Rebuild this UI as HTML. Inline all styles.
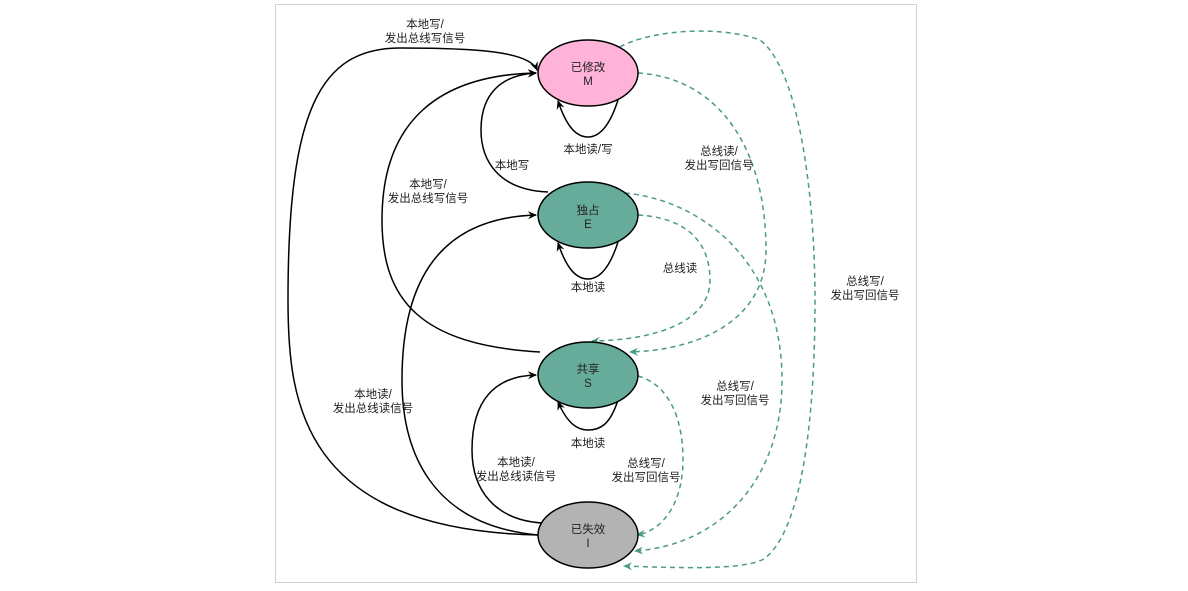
<!DOCTYPE html>
<html><head><meta charset="utf-8"><style>
html,body{margin:0;padding:0;background:#fff;}
svg{display:block;}
text{font-family:"Liberation Sans","Noto Sans CJK SC",sans-serif;font-size:11.5px;fill:#222;}
</style></head><body>
<svg width="1188" height="591" viewBox="0 0 1188 591" xmlns="http://www.w3.org/2000/svg">
<defs>
<marker id="ab" markerWidth="10" markerHeight="10" refX="8" refY="5" orient="auto" markerUnits="userSpaceOnUse"><path d="M0,1 L9,5 L0,9 L3,5 Z" fill="#000"/></marker>
<marker id="at" markerWidth="10" markerHeight="10" refX="8" refY="5" orient="auto" markerUnits="userSpaceOnUse"><path d="M0,1 L9,5 L0,9 L3,5 Z" fill="#4a9a86"/></marker>
</defs>
<rect x="275.5" y="4.5" width="641" height="578" fill="#fff" stroke="#d0d0d0"/>
<g fill="none" stroke="#000" stroke-width="1.5">
<path d="M538,535 C300,530 288,400 288,300 C288,110 320,48 400,48 C480,48 530,52 537,70" marker-end="url(#ab)"/>
<path d="M540,352 C420,345 382,300 382,220 C382,120 440,75 536,73" marker-end="url(#ab)"/>
<path d="M548,192 C498,190 481,160 481,130 C481,95 500,75 536,73" marker-end="url(#ab)"/>
<path d="M538,535 C430,525 402,450 402,380 C402,280 440,218 536,215" marker-end="url(#ab)"/>
<path d="M542,523 C495,520 472,490 472,450 C472,400 495,376 536,375" marker-end="url(#ab)"/>
<path d="M618,100 C610,125 600,137 588,137 C574,137 565,122 558,101" marker-end="url(#ab)"/>
<path d="M618,242 C610,267 600,279 588,279 C574,279 565,264 558,243" marker-end="url(#ab)"/>
<path d="M618,400 C610,425 600,430 588,430 C574,430 565,418 558,402" marker-end="url(#ab)"/>
</g>
<g fill="none" stroke="#4a9a86" stroke-width="1.5" stroke-dasharray="5,4">
<path d="M620,47 C650,30 720,25 760,40 C800,70 815,200 815,300 C815,450 795,540 762,560 C740,570 680,568 624,566" marker-end="url(#at)"/>
<path d="M638,73 C720,78 766,150 766,250 C766,320 700,350 630,352" marker-end="url(#at)"/>
<path d="M638,215 C690,218 710,245 710,280 C710,320 660,340 592,341" marker-end="url(#at)"/>
<path d="M625,193 C700,200 782,260 782,380 C782,480 720,545 635,551" marker-end="url(#at)"/>
<path d="M638,376 C670,385 683,420 683,460 C683,500 665,530 637,535" marker-end="url(#at)"/>
</g>
<ellipse cx="588" cy="73" rx="50" ry="33" fill="#ffb3d9" stroke="#000" stroke-width="1.5"/>
<ellipse cx="588" cy="215" rx="50" ry="33" fill="#67ab9b" stroke="#000" stroke-width="1.5"/>
<ellipse cx="588" cy="375" rx="50" ry="33" fill="#67ab9b" stroke="#000" stroke-width="1.5"/>
<ellipse cx="588" cy="535" rx="50" ry="33" fill="#b3b3b3" stroke="#000" stroke-width="1.5"/>
<g text-anchor="middle">
<text x="588" y="71">已修改</text><text x="588" y="85">M</text>
<text x="588" y="214">独占</text><text x="588" y="228">E</text>
<text x="588" y="373">共享</text><text x="588" y="387">S</text>
<text x="588" y="533">已失效</text><text x="588" y="547">I</text>
<rect x="565" y="141" width="46" height="14" fill="#fff"/>
<text x="588" y="153">本地读/写</text>
<text x="588" y="291">本地读</text>
<text x="588" y="447">本地读</text>
<text x="425" y="28">本地写/</text><text x="425" y="42">发出总线写信号</text>
<text x="428" y="188">本地写/</text><text x="428" y="202">发出总线写信号</text>
<text x="512" y="169">本地写</text>
<text x="373" y="398">本地读/</text><text x="373" y="412">发出总线读信号</text>
<text x="516" y="466">本地读/</text><text x="516" y="480">发出总线读信号</text>
<text x="719" y="155">总线读/</text><text x="719" y="169">发出写回信号</text>
<text x="680" y="272">总线读</text>
<text x="865" y="285">总线写/</text><text x="865" y="299">发出写回信号</text>
<text x="735" y="390">总线写/</text><text x="735" y="404">发出写回信号</text>
<text x="646" y="467">总线写/</text><text x="646" y="481">发出写回信号</text>
</g>
</svg>
</body></html>
